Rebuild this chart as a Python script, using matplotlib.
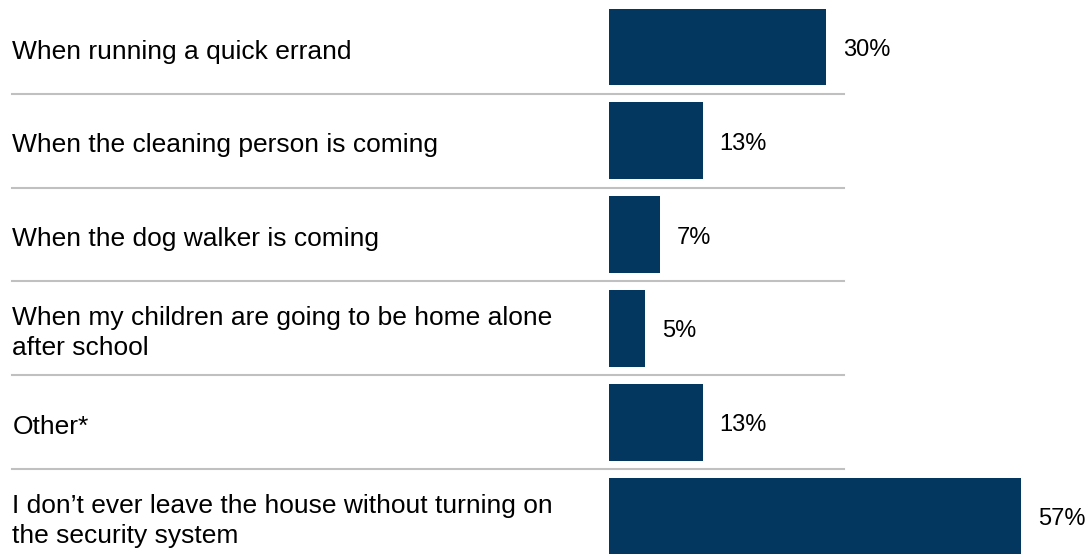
import matplotlib.pyplot as plt

plt.rcParams['font.family'] = ['Liberation Sans', 'DejaVu Sans']

categories = [
    "When running a quick errand",
    "When the cleaning person is coming",
    "When the dog walker is coming",
    "When my children are going to be home alone\nafter school",
    "Other*",
    "I don\u2019t ever leave the house without turning on\nthe security system",
]
values = [30, 13, 7, 5, 13, 57]
value_labels = ["30%", "13%", "7%", "5%", "13%", "57%"]

W, H = 1088, 559
fig = plt.figure(figsize=(W / 100, H / 100), dpi=100)
ax = fig.add_axes([0, 0, 1, 1])

# pixel geometry
px_per_pct = 7.233
bar_x0 = 609
row_pitch = 93.8
row0 = 47

ax.set_xlim(-bar_x0 / px_per_pct, (W - bar_x0) / px_per_pct)
ax.set_ylim((H - row0) / row_pitch, -row0 / row_pitch)
ax.axis("off")

ypos = list(range(len(categories)))
ax.barh(ypos, values, height=0.82, color="#03375f")

trans = ax.get_yaxis_transform()
for y, cat, v, lab in zip(ypos, categories, values, value_labels):
    ax.text(12.5 / W, y + 0.05, cat, transform=trans, ha="left", va="center",
            fontsize=19, linespacing=1.33, color="#000000")
    ax.annotate(lab, (v, y), xytext=(12, -2.2), textcoords="offset points",
                ha="left", va="center", fontsize=17, color="#000000")

# separator lines between rows
for y in ypos[:-1]:
    ax.axhline(y + 0.5, xmin=12 / W, xmax=844 / W, color="#c0c0c0", lw=1.5)

fig.savefig("out.png", dpi=100)
